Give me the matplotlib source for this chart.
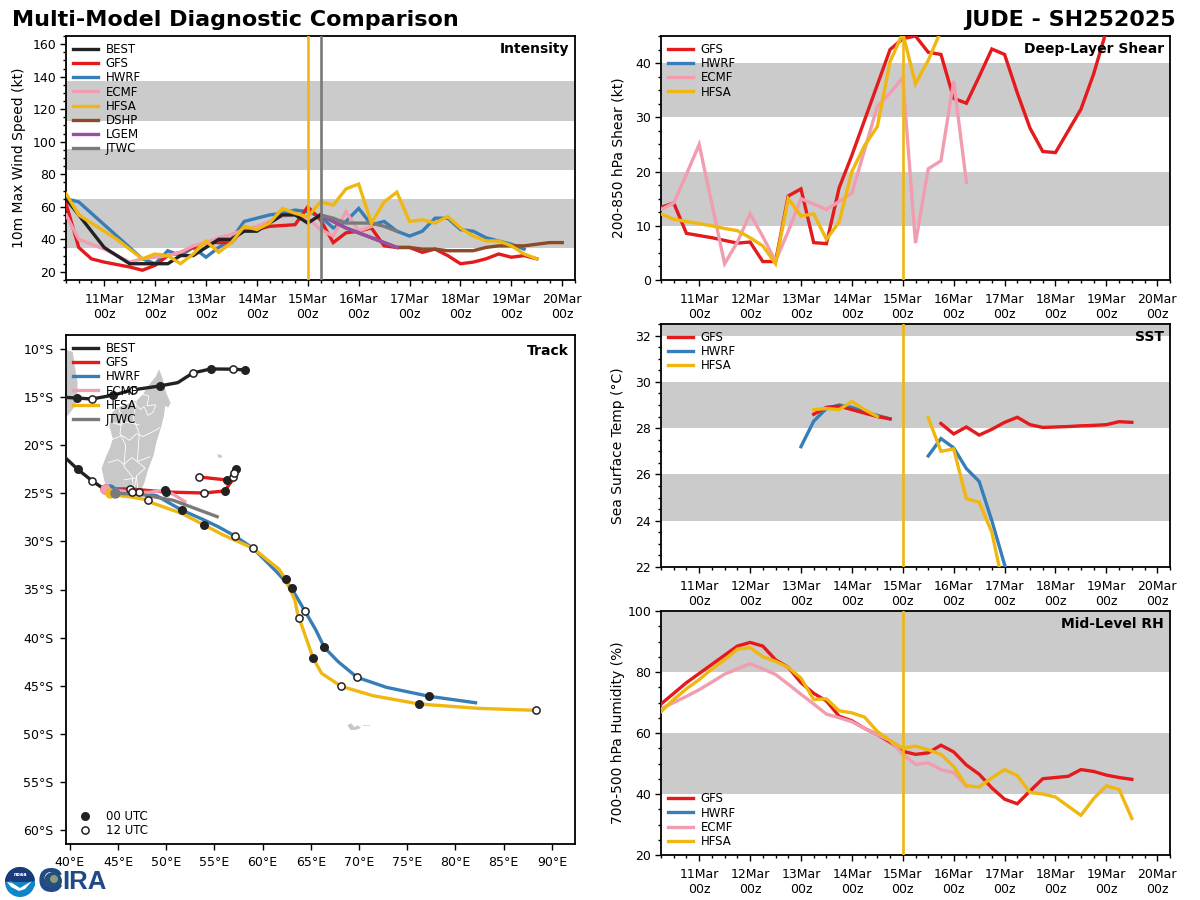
import numpy as np
import matplotlib
matplotlib.use("Agg")
import matplotlib.pyplot as plt
from matplotlib.patches import Polygon, Circle, Wedge
from matplotlib.ticker import MultipleLocator, FixedLocator, FixedFormatter

W, H = 1200, 900
plt.rcParams['font.family'] = 'DejaVu Sans'

COL = dict(BEST='#222222', GFS='#e41a1c', HWRF='#377eb8', ECMF='#f29cb0', HFSA='#efb70f',
           DSHP='#8c4a26', LGEM='#984ea3', JTWC='#7a7a7a')
BAND = '#cbcbcb'

day_ticks = [11, 12, 13, 14, 15, 16, 17, 18, 19, 20]
day_labels = ['%dMar\n00z' % d for d in day_ticks]

# ---------- Intensity (kt) : start day, values every 6 h ----------
int_best = [65, 55, 45, 35, 30, 25, 25, 25, 25, 30, 30, 35, 40, 40, 45, 45, 50, 55, 55, 50, 55]
int_gfs = [62, 35, 28, 26, 24.5, 23, 21, 24, 30, 32, 35, 38, 38, 38, 47, 46, 48, 48.5, 49, 60, 52, 38, 44, 45, 47,
           36, 35, 35, 32, 34, 30, 25, 26, 28, 31, 29, 30, 28]
int_hwrf = [65, 63, 56, 49, 42, 35, 28, 25, 33, 30, 35, 29, 35, 40, 51, 53, 55, 56, 58, 57, 54, 47, 51, 59, 49, 51,
            45, 42, 45, 53, 53, 46, 45, 41, 39, 37, 34]
int_ecmf = [55, 40, 37, 34, 30, 26, 28, 29, 30, 32, 36, 38, 41, 43, 46, 48, 51, 54, 55, 53, 46, 42, 57, 45, 48]
int_hfsa = [68, 55, 50, 45, 40, 34, 28, 31, 30, 25, 31, 39, 32, 38, 48, 46, 50, 59, 56, 54, 63, 61, 71, 74, 50, 63,
            69, 51, 52, 50, 54, 47, 42, 39, 39, 36, 31, 28]
int_dshp = [55, 51, 47, 44, 41, 38, 35, 35, 34, 34, 33, 33, 33, 35, 36, 36, 36, 37, 38, 38]
int_lgem = [55, 51, 47, 44, 41, 38, 35]
int_jtwc = [55, 53, 50, 50, 50, 48, 45]

# ---------- Shear (kt) ----------
shr_gfs = [13.4, 14.2, 8.6, 8.2, 7.8, 7.3, 6.8, 7, 3.4, 3.4, 15.5, 16.8, 6.9, 6.7, 17, 23, 29.5, 36, 42.5, 44.5, 45,
           42, 41.6, 33.5, 32.6, 37.5, 42.6, 41.6, 34.5, 28, 23.7, 23.5, 27.5, 31.5, 38, 46]
shr_ecmf = [13, 14.2, 19.5, 25, 14, 3, 7, 12.2, 8, 3.5, 9, 15, 14, 13, 14.5, 16, 24, 32, 34.5, 37.3, 6.8, 20.5, 22,
            36.7, 18]
shr_hfsa = [12.2, 11.2, 10.8, 10.4, 10, 9.5, 9.1, 7.8, 6.3, 3, 15, 11.8, 12.2, 7.5, 10.7, 20, 24.8, 28.3, 40.3, 45.5,
            36.2, 40.5, 46]

# ---------- SST (deg C) ----------
sst_gfs_a = [28.6, 28.9, 28.95, 28.8, 28.65, 28.5, 28.4]
sst_gfs_b = [28.2, 27.75, 28.05, 27.7, 27.95, 28.25, 28.47, 28.15, 28.03, 28.05, 28.07, 28.1, 28.12, 28.15, 28.28, 28.25]
sst_hwrf_a = [27.2, 28.3, 28.85, 29.0, 28.9, 28.7, 28.55, 28.4]
sst_hwrf_b = [26.8, 27.55, 27.15, 26.25, 25.7, 24.0, 22.1, 20.2]
sst_hfsa_a = [28.8, 28.85, 28.8, 29.15, 28.8, 28.5]
sst_hfsa_b = [28.45, 27.0, 27.1, 24.95, 24.8, 23.5, 20.9]

# ---------- Mid-level RH (%) ----------
rh_gfs = [69.5, 73, 76.5, 79.5, 82.5, 85.5, 88.5, 89.7, 88.5, 84, 81.5, 76.5, 73, 70.5, 65.5, 64, 61.5, 59.5, 57, 54,
          53, 53.5, 56, 53.8, 49.5, 46.5, 42, 38.3, 36.8, 41, 45, 45.4, 45.8, 48, 47.4, 46.2, 45.4, 44.8]
rh_ecmf = [68, 70, 72, 74.2, 76.7, 79.3, 81, 82.7, 81, 79.2, 76, 72.7, 69.5, 66.2, 65, 63.7, 61.5, 59.5, 57.5, 53,
           49.7, 50.2, 48, 47, 42.5]
rh_hfsa = [67, 71, 74.5, 77.5, 81, 84, 87.5, 88, 85, 83.5, 81.5, 78, 71, 71.2, 67.3, 66.6, 65.2, 60.5, 57.5, 55, 55.7,
           54.5, 53, 49, 42.7, 42.3, 45.3, 48, 46, 40.5, 40, 39, 36, 33, 38.5, 42.7, 41.5, 32]

# ---------- Tracks: lon, lat ----------
best_lon = [58.15, 56.9, 54.6, 52.75, 51.2, 49.3, 46.5, 44.5, 42.3, 40.7, 39.0, 37.5, 37.5, 39.0, 40.8, 42.3, 43.6]
best_lat = [-12.18, -12.1, -12.08, -12.5, -13.5, -13.85, -14.26, -14.8, -15.2, -15.1, -15.0, -16, -19, -20.8, -22.5, -23.7, -24.6]
best_00_lon = [58.15, 54.6, 49.3, 44.5, 40.7, 40.8]
best_00_lat = [-12.18, -12.08, -13.85, -14.8, -15.1, -22.5]
best_12_lon = [56.9, 52.75, 46.5, 42.3, 42.3]
best_12_lat = [-12.1, -12.5, -14.26, -15.2, -23.7]

gfs_lon = [43.63, 46.22, 49.96, 53.9, 56.08, 56.7, 56.9, 57.22, 57.0, 56.7, 56.29, 53.38]
gfs_lat = [-24.55, -24.55, -24.87, -24.97, -24.76, -23.83, -23.3, -22.47, -22.89, -23.83, -23.62, -23.3]
gfs_00_lon = [49.96, 56.08, 57.22, 56.29]
gfs_00_lat = [-24.87, -24.76, -22.47, -23.62]
gfs_12_lon = [46.22, 53.9, 56.9, 57.0, 53.38]
gfs_12_lat = [-24.55, -24.97, -23.3, -22.89, -23.3]

hwrf_lon = [44.15, 47.16, 48.99, 51.59, 53.93, 55.38, 57.12, 59.01, 61.44, 63.0, 64.38, 65.52, 66.38, 67.83, 69.8, 72.85, 77.27, 82.08]
hwrf_lat = [-24.55, -24.9, -25.25, -26.74, -27.78, -28.47, -29.44, -30.72, -33.15, -34.88, -37.24, -39.21, -41.0, -42.5, -44.13, -45.17, -46.1, -46.77]
hwrf_00_lon = [51.59, 63.0, 66.38, 77.27]
hwrf_00_lat = [-26.74, -34.88, -41.0, -46.1]
hwrf_12_lon = [47.16, 57.12, 64.38, 69.8]
hwrf_12_lat = [-24.9, -29.44, -37.24, -44.13]

hfsa_lon = [44.15, 48.12, 48.64, 51.59, 53.93, 55.9, 59.01, 61.71, 62.37, 63.34, 63.58, 63.79, 65.24, 66.11, 68.14, 71.46, 76.23, 82.35, 88.34]
hfsa_lat = [-25.0, -25.7, -26.04, -27.08, -28.3, -29.33, -30.72, -32.9, -33.94, -36.09, -37.31, -38.0, -42.15, -43.71, -45.06, -46.04, -46.9, -47.35, -47.56]
hfsa_00_lon = [53.93, 62.37, 65.24, 76.23]
hfsa_00_lat = [-28.3, -33.94, -42.15, -46.9]
hfsa_12_lon = [48.12, 59.01, 63.79, 68.14, 88.34]
hfsa_12_lat = [-25.7, -30.72, -38.0, -45.06, -47.56]

ecmf_lon = [43.63, 46.4, 48.3, 49.85, 50.89, 51.93]
ecmf_lat = [-24.55, -24.9, -24.9, -24.68, -25.2, -25.87]
ecmf_00_lon = [49.85]
ecmf_00_lat = [-24.68]
ecmf_12_lon = [46.4]
ecmf_12_lat = [-24.9]

jtwc_lon = [44.67, 47.26, 50.72, 55.28]
jtwc_lat = [-25.0, -25.1, -25.73, -27.43]

# ---------- Map shapes ----------
mada_lon = [49.25, 49.6, 50.0, 50.45, 50.2, 49.9, 49.75, 49.5, 49.0, 48.7, 48.1, 47.7, 47.2, 46.4, 45.5, 44.9, 44.0, 43.6, 43.3, 43.7, 44.2, 44.45, 44.1, 44.4, 44.9, 45.6, 46.3, 47.0, 47.6, 48.0, 48.4, 48.9]
mada_lat = [-12.1, -13.0, -14.6, -15.6, -16.1, -15.9, -17.0, -18.0, -19.6, -21.0, -22.6, -24.0, -25.0, -25.5, -25.5, -25.3, -25.0, -23.8, -22.4, -21.3, -20.2, -19.3, -18.0, -16.6, -16.1, -15.9, -15.6, -15.3, -14.7, -14.0, -13.5, -12.9]
moz_lon = [39.2, 40.3, 40.55, 40.8, 40.75, 40.5, 39.8, 39.2]
moz_lat = [-10.0, -10.3, -12.0, -13.5, -15.2, -16.0, -16.9, -17.3]
adm1_lon = [46.5, 47.3, 47.7, 48.1, 48.6, 48.9]
adm1_lat = [-15.4, -16.3, -16.0, -16.9, -16.6, -15.9]
adm2_lon = [44.4, 45.4, 46.2, 46.9, 47.6, 48.6, 49.3]
adm2_lat = [-19.4, -19.0, -19.5, -18.8, -19.1, -18.6, -18.2]
adm3_lon = [44.0, 45.0, 45.6, 46.4, 47.0, 48.3]
adm3_lat = [-21.8, -21.5, -22.0, -21.3, -21.7, -21.2]
adm4_lon = [45.0, 45.4, 45.2, 45.8, 45.6, 46.5, 46.6]
adm4_lat = [-16.0, -17.2, -18.8, -20.0, -22.2, -23.3, -25.4]
adm5_lon = [46.9, 46.6, 47.2, 47.0, 47.8, 46.9, 47.1]
adm5_lat = [-15.3, -17.2, -18.8, -21.7, -22.4, -23.2, -25.0]
adm6_lon = [45.6, 46.9, 46.5]
adm6_lat = [-23.6, -23.4, -25.4]
adm7_lon = [47.5, 48.2, 48.0, 48.9]
adm7_lat = [-14.7, -14.9, -15.9, -15.8]
adm8_lon = [44.3, 45.2, 45.8, 47.2]
adm8_lat = [-17.6, -17.9, -17.6, -17.9]
reunion_lon = [55.3, 55.7, 55.8, 55.4]
reunion_lat = [-20.95, -21.0, -21.3, -21.3]
kerg_lon = [68.8, 69.2, 69.5, 69.9, 70.2, 69.6, 69.1]
kerg_lat = [-49.1, -48.9, -49.3, -49.1, -49.4, -49.6, -49.6]
kerg2_lon = [70.4, 71.0]
kerg2_lat = [-49.1, -49.1]

fig = plt.figure(figsize=(12, 9), dpi=100)


def make_ax(l, r, t, b):
    return fig.add_axes([l / W, 1 - b / H, (r - l) / W, (b - t) / H])


def times(vals, start=10.25):
    return start + 0.25 * np.arange(len(vals))


def series(ax, vals, name, start=10.25, label=True, **kw):
    kw.setdefault('lw', 2.4)
    return ax.plot(times(vals, start), vals, color=COL[name], label=name if label else None,
                   solid_joinstyle='miter', **kw)


LEG = dict(frameon=False, fontsize=8.5, labelspacing=0.1, handlelength=2.1, handletextpad=0.65,
           borderaxespad=0.25, borderpad=0.35)


def finish_time_ax(ax, ylim, bands, ymaj, ymin, ylabel, title, label_px, legend_loc='upper left'):
    ax.set_xlim(10.25, 20.25)
    ax.set_ylim(*ylim)
    for lo, hi in bands:
        ax.axhspan(lo, hi, facecolor=BAND, edgecolor='none', zorder=0)
    ax.xaxis.set_major_locator(FixedLocator(day_ticks))
    ax.xaxis.set_major_formatter(FixedFormatter(day_labels))
    ax.xaxis.set_minor_locator(MultipleLocator(0.25))
    ax.yaxis.set_major_locator(MultipleLocator(ymaj))
    ax.yaxis.set_minor_locator(MultipleLocator(ymin))
    ax.tick_params(axis='x', which='major', length=4.5, width=1.0, labelsize=9, pad=5)
    ax.tick_params(axis='y', which='major', length=4, width=1.0, labelsize=9, pad=3)
    ax.tick_params(which='minor', length=2, width=1.0)
    ax.set_ylabel(ylabel, fontsize=10)
    ax.yaxis.set_label_coords(label_px, 0.5)
    for s in ax.spines.values():
        s.set_linewidth(1.3)
    ax.text(0.988, 0.975, title, transform=ax.transAxes, ha='right', va='top', fontsize=10, fontweight='bold', zorder=9)
    ax.legend(loc=legend_loc, **LEG)


LBL_LEFT = (26 - 66) / 509
LBL_RIGHT = (625 - 661) / 509

# ---------- Intensity panel ----------
ax = make_ax(66, 575, 36, 280)
series(ax, int_best, 'BEST', zorder=4)
series(ax, int_gfs, 'GFS', zorder=3)
series(ax, int_hwrf, 'HWRF', zorder=2.5)
series(ax, int_ecmf, 'ECMF', zorder=3.2)
series(ax, int_hfsa, 'HFSA', zorder=5)
series(ax, int_dshp, 'DSHP', start=15.25, zorder=3.4)
series(ax, int_lgem, 'LGEM', start=15.25, zorder=3.6)
series(ax, int_jtwc, 'JTWC', start=15.25, zorder=3.8)
ax.axvline(15.0, color=COL['HFSA'], lw=1.9, zorder=5)
ax.axvline(15.25, color=COL['JTWC'], lw=1.9, zorder=5)
finish_time_ax(ax, (15, 165), [(34.5, 64.8), (82.6, 95.5), (112.7, 137.3)], 20, 5, '10m Max Wind Speed (kt)', 'Intensity', LBL_LEFT)

# ---------- Shear panel ----------
ax = make_ax(661, 1170, 36, 280)
series(ax, shr_gfs, 'GFS', zorder=3)
ax.plot([], [], color=COL['HWRF'], lw=2.4, label='HWRF')
series(ax, shr_ecmf, 'ECMF', zorder=3.5)
series(ax, shr_hfsa, 'HFSA', zorder=4)
ax.axvline(15.0, color=COL['HFSA'], lw=1.9, zorder=5)
finish_time_ax(ax, (0, 45), [(10, 20), (30, 40)], 10, 2.5, '200-850 hPa Shear (kt)', 'Deep-Layer Shear', LBL_RIGHT)

# ---------- SST panel ----------
ax = make_ax(661, 1170, 324, 567)
series(ax, sst_gfs_a, 'GFS', start=13.25, zorder=3)
series(ax, sst_gfs_b, 'GFS', start=15.75, label=False, zorder=3)
series(ax, sst_hwrf_a, 'HWRF', start=13.0, zorder=2.8)
series(ax, sst_hwrf_b, 'HWRF', start=15.5, label=False, zorder=2.8)
series(ax, sst_hfsa_a, 'HFSA', start=13.25, zorder=4)
series(ax, sst_hfsa_b, 'HFSA', start=15.5, label=False, zorder=4)
ax.axvline(15.0, color=COL['HFSA'], lw=1.9, zorder=5)
finish_time_ax(ax, (22, 32.5), [(24, 26), (28, 30), (32, 33)], 2, 0.5, 'Sea Surface Temp (°C)', 'SST', LBL_RIGHT)

# ---------- RH panel ----------
ax = make_ax(661, 1170, 611, 855)
series(ax, rh_gfs, 'GFS', zorder=3)
ax.plot([], [], color=COL['HWRF'], lw=2.4, label='HWRF')
series(ax, rh_ecmf, 'ECMF', zorder=3.5)
series(ax, rh_hfsa, 'HFSA', zorder=4)
ax.axvline(15.0, color=COL['HFSA'], lw=1.9, zorder=5)
finish_time_ax(ax, (20, 100), [(40, 60), (80, 100)], 20, 5, '700-500 hPa Humidity (%)', 'Mid-Level RH', LBL_RIGHT,
               legend_loc='lower left')

# ---------- Track panel ----------
ax = make_ax(66, 575, 335, 844)
ax.set_xlim(39.6, 92.4)
ax.set_ylim(-61.45, -8.55)
for lo, la in [(mada_lon, mada_lat), (moz_lon + [37, 37], moz_lat + [-17.3, -10]),
               (reunion_lon, reunion_lat), (kerg_lon, kerg_lat)]:
    ax.add_patch(Polygon(np.column_stack([lo, la]), closed=True, facecolor='#c8c8c8', edgecolor='none', zorder=1))
ax.plot(kerg2_lon, kerg2_lat, color='#d8d8d8', lw=0.7, zorder=1)
for lo, la in [(adm1_lon, adm1_lat), (adm2_lon, adm2_lat), (adm3_lon, adm3_lat), (adm4_lon, adm4_lat),
               (adm5_lon, adm5_lat), (adm6_lon, adm6_lat), (adm7_lon, adm7_lat), (adm8_lon, adm8_lat)]:
    ax.plot(lo, la, color='white', lw=0.6, zorder=1.5)

track_set = [('BEST', best_lon, best_lat), ('GFS', gfs_lon, gfs_lat), ('HWRF', hwrf_lon, hwrf_lat),
             ('ECMF', ecmf_lon, ecmf_lat), ('HFSA', hfsa_lon, hfsa_lat), ('JTWC', jtwc_lon, jtwc_lat)]
for i, (name, lo, la) in enumerate(track_set):
    ax.plot(lo, la, color=COL[name], lw=2.4, label=name, zorder=3 + 0.1 * i)
for name, lo, la in track_set[1:]:
    ax.plot(lo[0], la[0], 'o', color=COL[name], ms=7.5, mew=0, zorder=3.7)

dots00 = [(best_00_lon, best_00_lat), (gfs_00_lon, gfs_00_lat), (hwrf_00_lon, hwrf_00_lat),
          (hfsa_00_lon, hfsa_00_lat), (ecmf_00_lon, ecmf_00_lat)]
dots12 = [(best_12_lon, best_12_lat), (gfs_12_lon, gfs_12_lat), (hwrf_12_lon, hwrf_12_lat),
          (hfsa_12_lon, hfsa_12_lat), (ecmf_12_lon, ecmf_12_lat)]
for lo, la in dots00:
    ax.plot(lo, la, 'o', color=COL['BEST'], ms=6.5, mew=0, zorder=4)
for lo, la in dots12:
    ax.plot(lo, la, 'o', mfc='white', mec=COL['BEST'], ms=5.2, mew=1.1, zorder=4)

ax.set_xticks(np.arange(40, 95, 5))
ax.set_xticklabels(['%d°E' % v for v in np.arange(40, 95, 5)])
ax.set_yticks(np.arange(-60, -5, 5))
ax.set_yticklabels(['%d°S' % -v for v in np.arange(-60, -5, 5)])
ax.tick_params(length=4.5, width=1.0, labelsize=9, pad=4.5)
for s in ax.spines.values():
    s.set_linewidth(1.3)
ax.text(0.988, 0.983, 'Track', transform=ax.transAxes, ha='right', va='top', fontsize=10, fontweight='bold')

h, l = ax.get_legend_handles_labels()
leg1 = ax.legend(h, l, loc='upper left', **LEG)
ax.add_artist(leg1)
h00, = ax.plot([], [], 'o', color=COL['BEST'], ms=6.5, mew=0)
h12, = ax.plot([], [], 'o', mfc='white', mec=COL['BEST'], ms=5.2, mew=1.1)
ax.legend([h00, h12], ['00 UTC', '12 UTC'], loc='lower left', **LEG)

# ---------- Titles ----------
fig.text(12 / W, 1 - 20 / H, 'Multi-Model Diagnostic Comparison', fontsize=16, fontweight='bold', ha='left', va='center')
fig.text(1176 / W, 1 - 20 / H, 'JUDE - SH252025', fontsize=16, fontweight='bold', ha='right', va='center')

# ---------- Logos ----------
lax = fig.add_axes([0, 0, 120 / W, 36 / H])
lax.set_xlim(0, 120)
lax.set_ylim(36, 0)
lax.axis('off')
lax.set_aspect('equal')
lax.add_patch(Circle((20, 18), 15, facecolor='#0f86c8', edgecolor='none'))
lax.add_patch(Wedge((20, 18), 15, 180, 360, facecolor='#1b3a7a', edgecolor='none'))
lax.add_patch(Polygon([[5, 18], [12, 17], [20, 24], [28, 21], [35, 16], [35, 22], [20, 29], [8, 25]], closed=True,
                      facecolor='#0f86c8', edgecolor='none'))
lax.add_patch(Polygon([[7, 18], [12, 19], [20, 24], [32, 17], [25, 25], [19, 27], [11, 23]], closed=True, facecolor='white', edgecolor='none'))
lax.text(20, 11, 'noaa', color='white', fontsize=3.5, ha='center', va='center', fontweight='bold')
lax.add_patch(Circle((53, 17), 9, facecolor='#24507a', edgecolor='none'))
lax.add_patch(Circle((54, 15), 4, facecolor='#8a9a7a', edgecolor='none'))
lax.text(38, 18, 'C', color='#1f4a86', fontsize=25, fontweight='bold', family='Liberation Sans', ha='left', va='center')
lax.text(62, 18, 'IRA', color='#1f4a86', fontsize=18.5, fontweight='bold', family='Liberation Sans', ha='left', va='center')

fig.savefig('out.png', dpi=100)
